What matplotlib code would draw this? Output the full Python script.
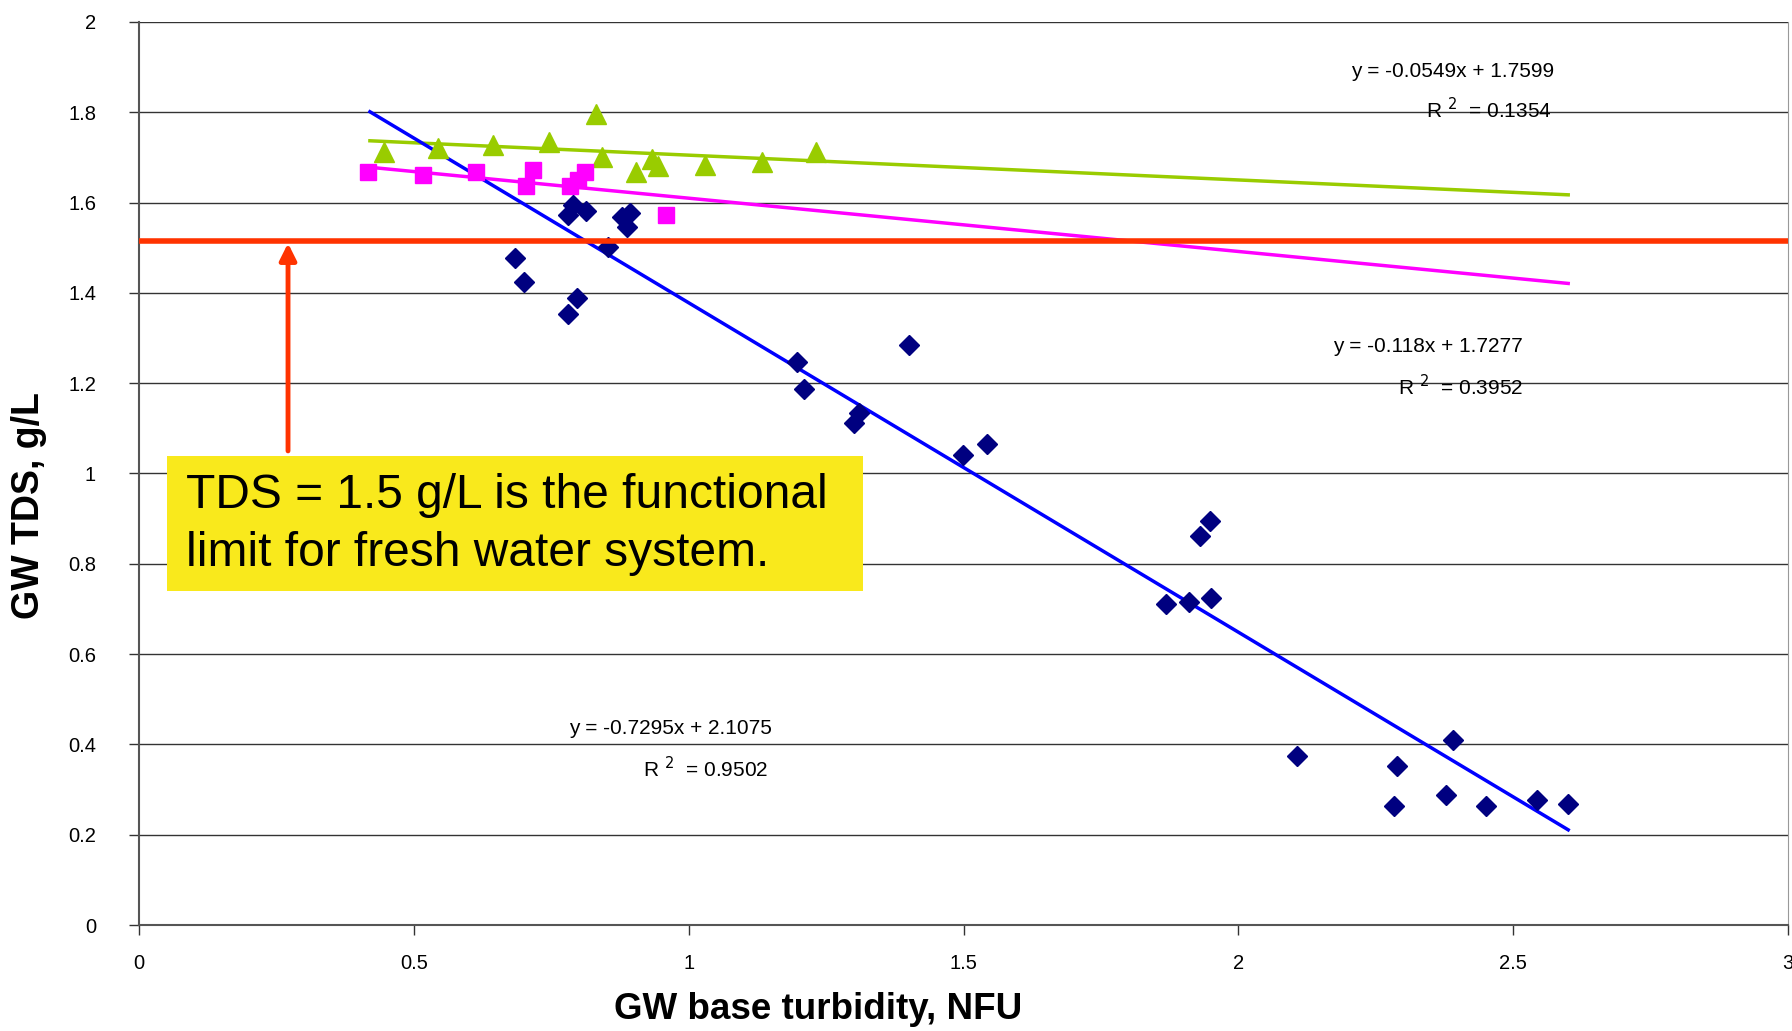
import numpy as np
import matplotlib.pyplot as plt
from matplotlib.patches import Rectangle

plt.rcParams['font.family'] = ['Liberation Sans', 'DejaVu Sans']

# ==========================================
# Data
# ==========================================
# blue diamonds
blue_x = [0.684, 0.701, 0.781, 0.797, 0.781, 0.790, 0.814, 0.879, 0.894, 0.887, 0.854,
          1.197, 1.210, 1.300, 1.310, 1.401, 1.499, 1.543,
          1.869, 1.911, 1.950, 1.931, 1.948,
          2.106, 2.283, 2.289, 2.378, 2.391, 2.451, 2.543, 2.599]
blue_y = [1.477, 1.423, 1.353, 1.388, 1.573, 1.595, 1.582, 1.567, 1.577, 1.547, 1.501,
          1.246, 1.187, 1.111, 1.134, 1.284, 1.041, 1.066,
          0.711, 0.716, 0.724, 0.861, 0.894,
          0.375, 0.263, 0.352, 0.289, 0.410, 0.263, 0.276, 0.268]

# magenta squares
pink_x = [0.416, 0.517, 0.613, 0.716, 0.704, 0.784, 0.799, 0.811, 0.959]
pink_y = [1.667, 1.661, 1.667, 1.673, 1.637, 1.637, 1.650, 1.667, 1.573]

# green triangles
green_x = [0.446, 0.543, 0.644, 0.746, 0.831, 0.843, 0.904, 0.934, 0.945, 1.030, 1.133, 1.231]
green_y = [1.713, 1.720, 1.728, 1.735, 1.796, 1.702, 1.668, 1.697, 1.680, 1.683, 1.689, 1.711]

# trend lines as printed on the chart: (slope, intercept, R2)
blue_fit = (-0.7295, 2.1075, 0.9502)
pink_fit = (-0.118, 1.7277, 0.3952)
green_fit = (-0.0549, 1.7599, 0.1354)
fit_range = [0.42, 2.6]

limit_tds = 1.515

fig = plt.figure(figsize=(17.92, 10.31), dpi=100)
ax = fig.add_axes([0.0776, 0.1028, 0.9202, 0.8759])

# grid
for g in np.arange(0.2, 2.01, 0.2):
    ax.axhline(g, color='#333333', lw=1.0, zorder=0)

xs = np.array(fit_range)
ax.plot(xs, green_fit[0] * xs + green_fit[1], color='#99CC00', lw=2.5, zorder=2)
ax.plot(xs, pink_fit[0] * xs + pink_fit[1], color='#FF00FF', lw=2.5, zorder=2)
ax.plot(xs, blue_fit[0] * xs + blue_fit[1], color='#0000FF', lw=2.5, zorder=2)

ax.plot(green_x, green_y, '^', color='#99CC00', ms=14, mec='#99CC00', zorder=3)
ax.plot(pink_x, pink_y, 's', color='#FF00FF', ms=12, mec='#FF00FF', zorder=3)
ax.plot(blue_x, blue_y, 'D', color='#000080', ms=10, mec='#000080', zorder=4)

# functional limit
ax.axhline(limit_tds, color='#FF3300', lw=4, zorder=5)
ax.annotate('', xy=(0.271, limit_tds - 0.005), xytext=(0.271, 1.05),
            arrowprops=dict(arrowstyle='-|>', color='#FF3300', lw=3.5,
                            mutation_scale=25, shrinkA=0, shrinkB=0), zorder=6)

# yellow note
ax.add_patch(Rectangle((0.017, 0.370), 0.422, 0.149, transform=ax.transAxes,
                       fc='#F9E91C', ec='none', zorder=7))
ax.text(0.0285, 0.4435, 'TDS = 1.5 g/L is the functional\nlimit for fresh water system.',
        transform=ax.transAxes, fontsize=34.5, ha='left', va='center',
        linespacing=1.38, zorder=8)

# equation labels
eq_fs = 15
ax.text(2.39, 1.891, 'y = %.4fx + %.4f' % green_fit[:2], fontsize=eq_fs, ha='center', va='center')
ax.text(2.455, 1.805, 'R $^{2}$  = %.4f' % green_fit[2], fontsize=eq_fs, ha='center', va='center')
ax.text(2.345, 1.281, 'y = %.3fx + %.4f' % pink_fit[:2], fontsize=eq_fs, ha='center', va='center')
ax.text(2.405, 1.192, 'R $^{2}$  = %.4f' % pink_fit[2], fontsize=eq_fs, ha='center', va='center')
ax.text(0.967, 0.435, 'y = %.4fx + %.4f' % blue_fit[:2], fontsize=eq_fs, ha='center', va='center')
ax.text(1.031, 0.347, 'R $^{2}$  = %.4f' % blue_fit[2], fontsize=eq_fs, ha='center', va='center')

ax.set_xlim(0, 3)
ax.set_ylim(0, 2)
ax.set_xticks([0, 0.5, 1, 1.5, 2, 2.5, 3])
ax.set_xticklabels(['0', '0.5', '1', '1.5', '2', '2.5', '3'])
ax.set_yticks(np.arange(0, 2.01, 0.2))
ax.set_yticklabels(['0', '0.2', '0.4', '0.6', '0.8', '1', '1.2', '1.4', '1.6', '1.8', '2'])
ax.tick_params(direction='out', length=7, width=1, labelsize=14.5, color='#333333')
ax.tick_params(axis='y', pad=24)
ax.tick_params(axis='x', pad=14)

for s in ['left', 'bottom']:
    ax.spines[s].set_color('#555555')
    ax.spines[s].set_linewidth(1.5)
ax.spines['right'].set_color('#999999')
ax.spines['top'].set_visible(False)

ax.text(0.4117, -0.094, 'GW base turbidity, NFU', transform=ax.transAxes,
        fontsize=26.5, fontweight='bold', ha='center', va='center')
ax.text(-0.0667, 0.465, 'GW TDS, g/L', transform=ax.transAxes, rotation=90,
        fontsize=27, fontweight='bold', ha='center', va='center')

fig.savefig('out.png', dpi=100)
